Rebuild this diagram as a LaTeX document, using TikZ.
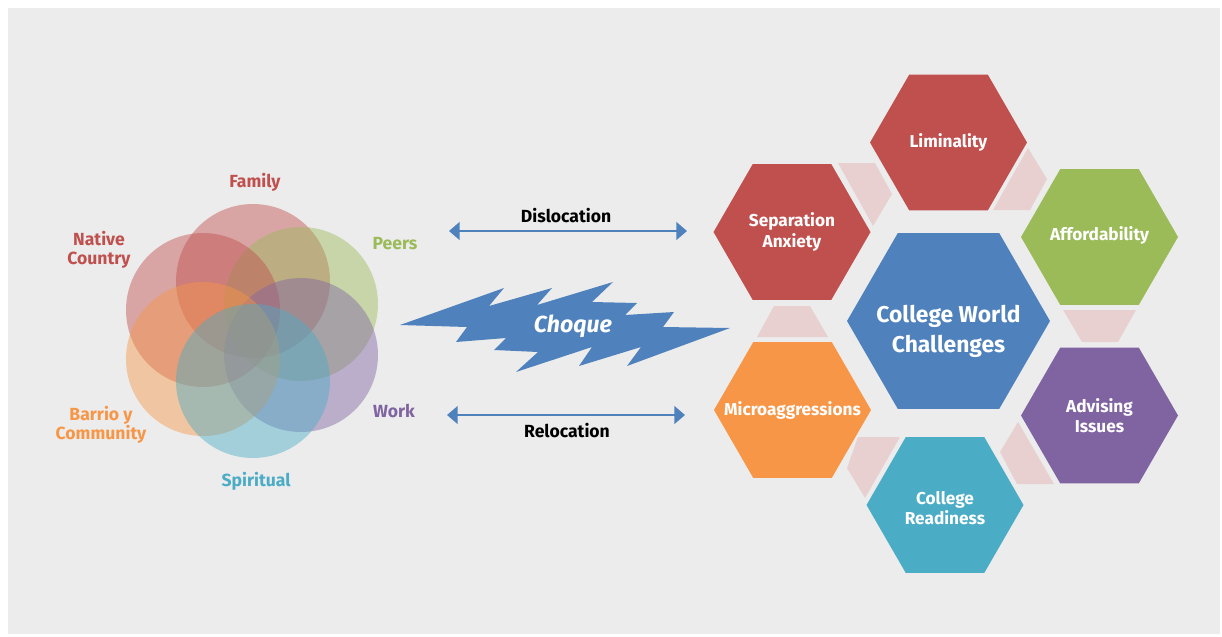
\documentclass[tikz,border=0pt]{standalone}
\usepackage{fontspec}
\setmainfont{Fira Sans}
\usetikzlibrary{shapes.geometric,arrows.meta}
\definecolor{redc}{HTML}{C0504D}
\definecolor{greenc}{HTML}{9BBB59}
\definecolor{purplec}{HTML}{8064A2}
\definecolor{tealc}{HTML}{4BACC6}
\definecolor{orangec}{HTML}{F79646}
\definecolor{bluec}{HTML}{4F81BD}
\definecolor{pinkc}{HTML}{E8D0D0}
\definecolor{bgc}{HTML}{ECECEC}

\begin{document}
\begin{tikzpicture}[x=0.02cm, y=-0.02cm,
    ring/.style={circle, inner sep=0pt, minimum size=3.08cm, fill opacity=0.45},
    hexbox/.style={regular polygon, regular polygon sides=6, inner sep=0pt,
      minimum size=3.14cm},
    hextext/.style={text=white, align=center,
      font=\fontsize{9.8}{11.5}\selectfont\bfseries},
    lbl/.style={align=center, font=\fontsize{10}{10.5}\selectfont\bfseries},
    twoway/.style={bluec, line width=1.1pt,
      {Triangle[length=6pt,width=10pt]}-{Triangle[length=6pt,width=10pt]}},
    gap/.style={fill=pinkc}]

  \useasboundingbox (0,0) rectangle (1222,636);
  \fill[bgc] (8,8) rectangle (1220,634);

  % overlapping spheres of life
  \foreach \n/\c/\x/\y in {family/redc/253/281, peers/greenc/301/304,
      native/redc/203/310, work/purplec/301/355, barrio/orangec/203/359,
      spirit/tealc/253/381}{
    \node[ring, fill=\c] (\n) at (\x,\y) {};
  }
  \node[lbl, text=redc] (familyl) at (255,182) {Family};
  \node[lbl, text=redc] (nativel) at (99,250) {Native\\Country};
  \node[lbl, text=greenc] (peersl) at (395,244) {Peers};
  \node[lbl, text=purplec] (workl) at (394,411) {Work};
  \node[lbl, text=orangec] (barriol) at (101,425) {Barrio y\\Community};
  \node[lbl, text=tealc] (spiritl) at (256,481) {Spiritual};

  % the two arrows
  \coordinate (disw) at (449,231);
  \coordinate (dise) at (687,231);
  \draw[twoway] (disw) -- (dise);
  \node[lbl] (disl) at (566,216) {Dislocation};
  \coordinate (relw) at (447,415);
  \coordinate (rele) at (685,415);
  \draw[twoway] (relw) -- (rele);
  \node[lbl] (rell) at (567,431) {Relocation};

  % choque bolt
  \fill[bluec] (400,325) -- (504,288) -- (489,306) -- (552,288) -- (537,305)
    -- (613,282) -- (592,302) -- (637,303) -- (625,315) -- (674,312)
    -- (663,327) -- (730,328) -- (627,366) -- (641,347) -- (579,366)
    -- (592,347) -- (516,372) -- (538,352) -- (494,350) -- (506,338)
    -- (456,342) -- (467,327) -- cycle;
  \node[text=white, font=\fontsize{13.2}{14}\selectfont\bfseries\itshape]
    (choque) at (573,326) {Choque};

  % pink pieces between the hexagons
  \fill[gap] (838,163) -- (875,163) -- (892,194) -- (873,226) -- cycle;
  \fill[gap] (1028,148) -- (1047,179) -- (1030,210) -- (993,210) -- cycle;
  \fill[gap] (1063,310) -- (1136,310) -- (1118,342) -- (1082,342) -- cycle;
  \fill[gap] (1018,422) -- (1054,484) -- (1017,484) -- (1000,452) -- cycle;
  \fill[gap] (858,437) -- (900,437) -- (865,498) -- (847,468) -- cycle;
  \fill[gap] (774,306) -- (810,306) -- (828,337) -- (757,337) -- cycle;

  % challenges
  \foreach \n/\c/\x/\y in {liminal/redc/948.5/142.5, sepanx/redc/792/232,
      afford/greenc/1099.5/237, micro/orangec/792.5/410,
      ready/tealc/945/505, advise/purplec/1099.5/415.5}{
    \node[hexbox, fill=\c] (\n) at (\x,\y) {};
  }
  \node[hexbox, fill=bluec, minimum size=4.06cm] (college) at (948.5,321) {};

  \node[hextext] (liminalt) at (liminal) {Liminality};
  \node[hextext] (sepanxt) at (sepanx) {Separation\\Anxiety};
  \node[hextext] (affordt) at (1099.5,235) {Affordability};
  \node[hextext] (microt) at (micro) {Microaggressions};
  \node[hextext] (readyt) at (945,508) {College\\Readiness};
  \node[hextext] (adviset) at (advise) {Advising\\Issues};
  \node[hextext, font=\fontsize{13}{17}\selectfont\bfseries]
    (collegel) at (948.5,331) {College World\\Challenges};
\end{tikzpicture}
\end{document}
